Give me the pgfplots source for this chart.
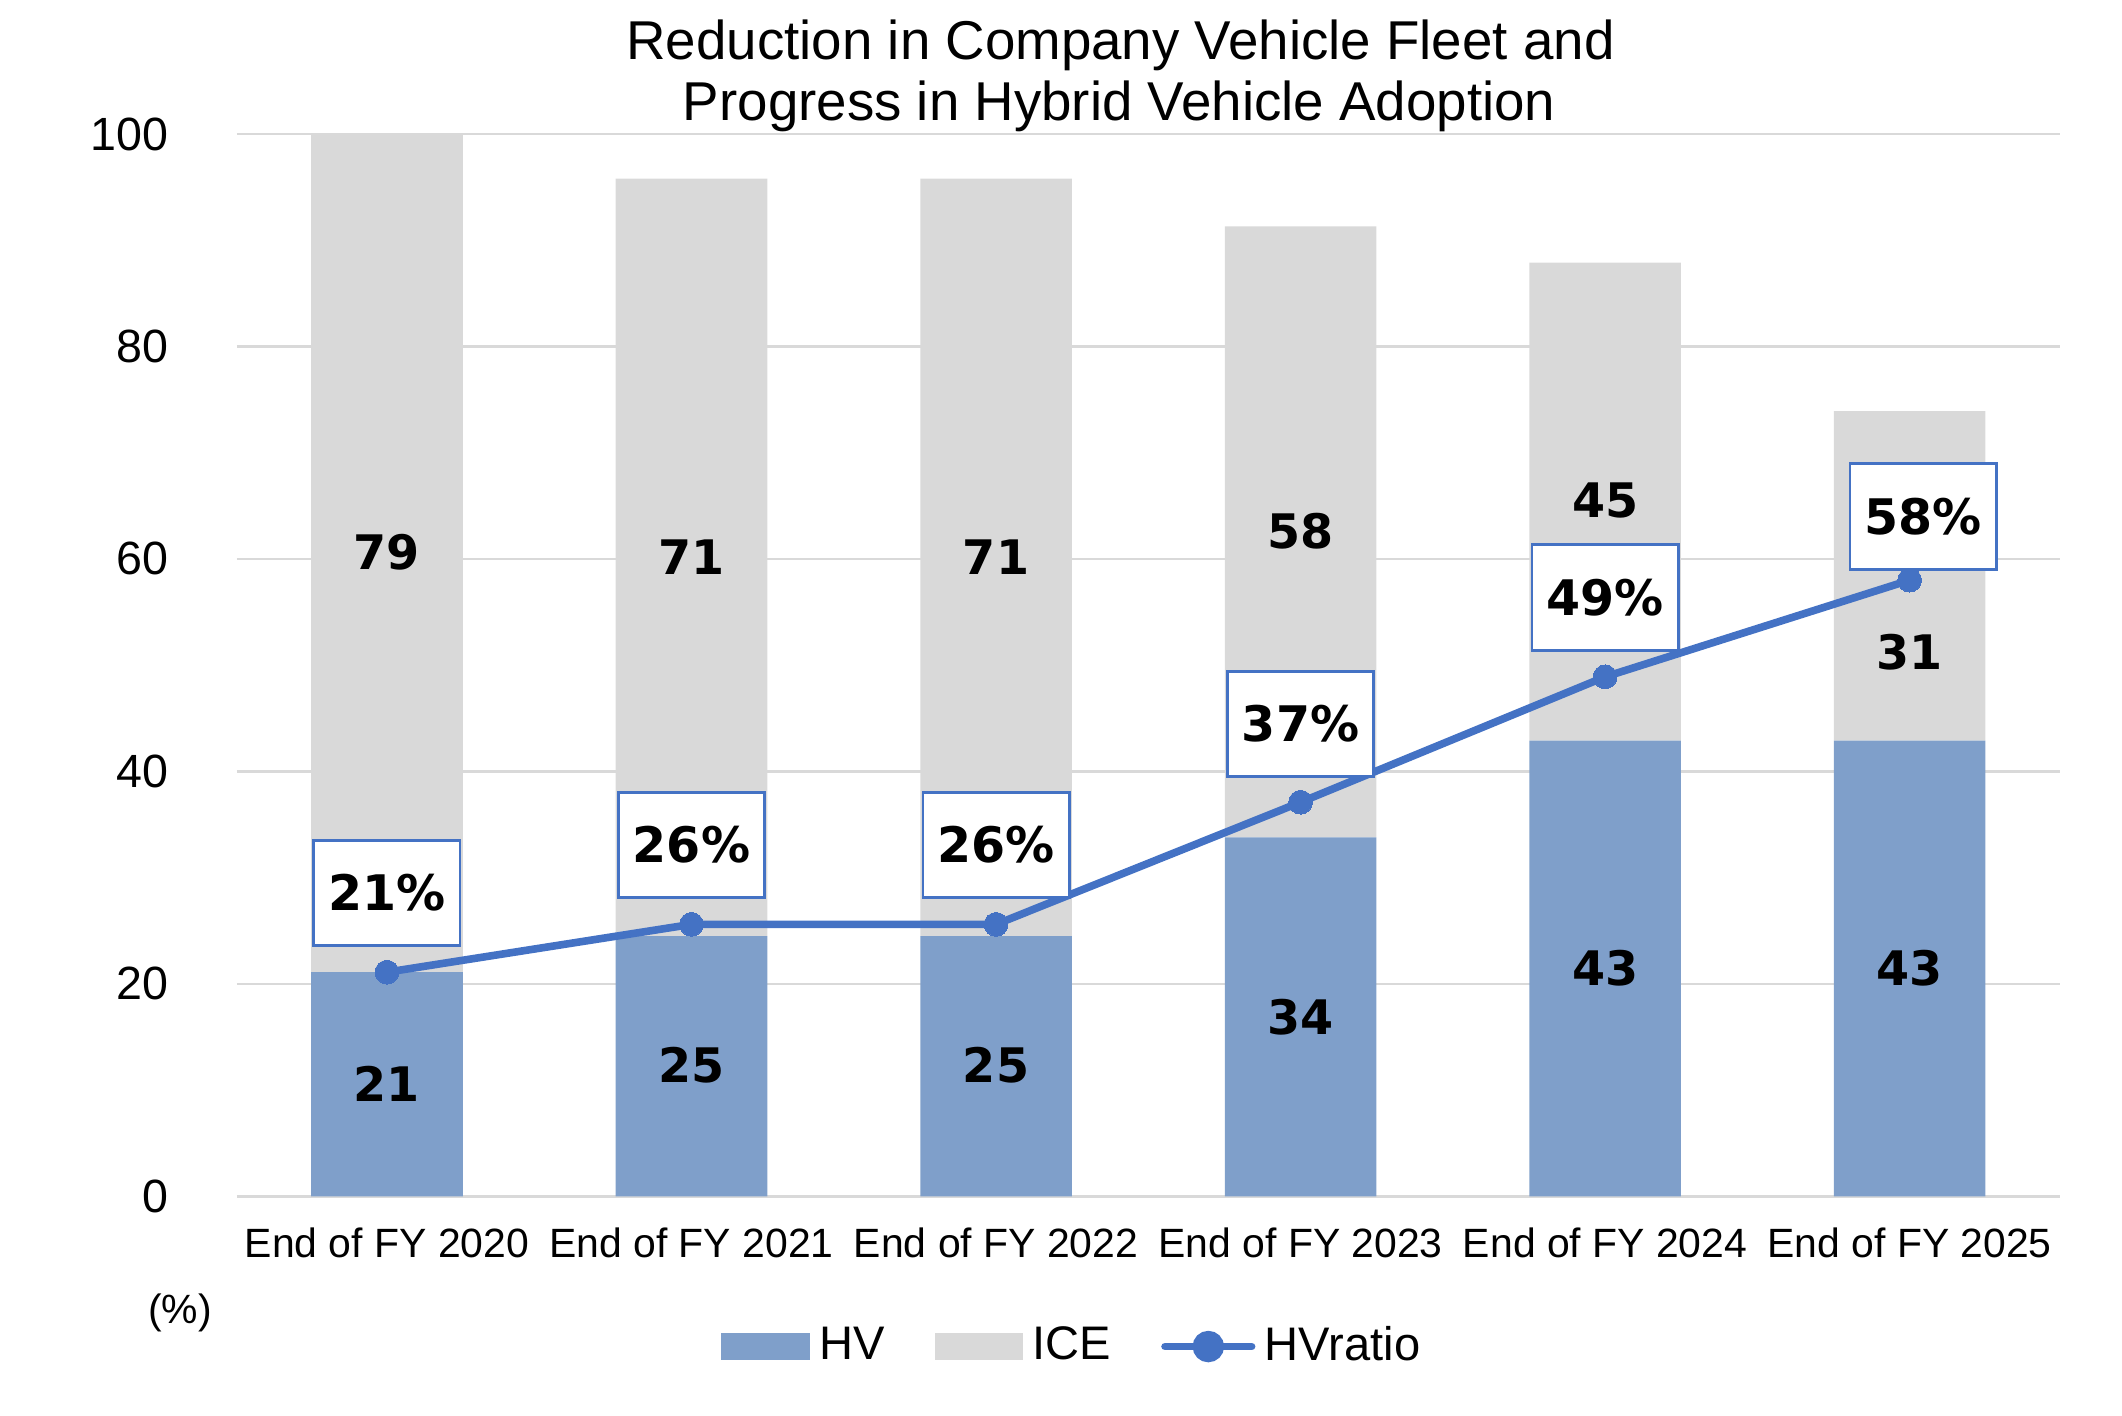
\documentclass[border=0pt]{standalone}
\usepackage{pgfplots}
\pgfplotsset{compat=1.18}
\usepackage{pgfplotstable}
\usepackage{fontspec}
\setmainfont{Liberation Sans}
\newfontfamily\lblfont{DejaVu Sans}
\definecolor{hvc}{HTML}{7F9FCA}
\definecolor{icec}{HTML}{D9D9D9}
\definecolor{linec}{HTML}{4472C4}
\definecolor{gridc}{HTML}{D9D9D9}

\pgfplotstableread{
x hv ice ratio
0 21.1 78.9 21.1
1 24.5 71.3 25.6
2 24.5 71.3 25.6
3 33.8 57.5 37.1
4 42.9 45.0 48.9
5 42.9 31.0 58.0
}\datatab

\pgfplotstableread{
x y lab
0 10.6 21
1 12.3 25
2 12.3 25
3 16.9 34
4 21.5 43
5 21.5 43
0 60.6 79
1 60.2 71
2 60.2 71
3 62.6 58
4 65.5 45
5 51.2 31
}\barlabs

\pgfplotstableread{
x y lab
0 28.54 21\%
1 33.06 26\%
2 33.06 26\%
3 44.46 37\%
4 56.37 49\%
5.044 64.01 58\%
}\ratiolabs

\pgfplotsset{
  common/.style={
    at={(0,0)}, anchor=south west,
    scale only axis,
    width=13.47cm, height=7.85cm,
    xmin=-0.493, xmax=5.493,
    ymin=0, ymax=100,
    clip=false,
  },
}

\begin{document}
\begin{tikzpicture}
\path[use as bounding box] (-1.75cm,-1.616cm) rectangle (13.93cm,8.84cm);
\begin{axis}[
  common,
  ybar stacked,
  bar width=1.12cm,
  ytick={0,20,...,100},
  xtick={0,1,2,3,4,5},
  xticklabels={End of FY 2020,End of FY 2021,End of FY 2022,End of FY 2023,End of FY 2024,End of FY 2025},
  axis line style={draw=none},
  tick style={draw=none},
  ymajorgrids,
  grid style={gridc, line width=0.5pt},
  /pgf/number format/assume math mode=true,
  yticklabel style={font=\fontsize{9.8}{11}\selectfont, anchor=east, inner sep=0pt, xshift=-0.5cm},
  xticklabel style={font=\fontsize{8.6}{10}\selectfont, anchor=base, inner sep=0pt, yshift=-0.45cm},
]
\addplot[fill=hvc, draw=none] table[x=x, y=hv] {\datatab};
\addplot[fill=icec, draw=none] table[x=x, y=ice] {\datatab};
\end{axis}
\begin{axis}[
  common,
  hide axis,
  legend style={at={(0.4600,-0.1414)}, anchor=center, draw=none, fill=none,
    legend columns=-1, font=\fontsize{9.9}{11}\selectfont,
    /tikz/every even column/.append style={column sep=0.30cm}},
  legend cell align=left,
]
\addlegendimage{legend image code/.code={\fill[hvc] (0cm,-0.095cm) rectangle (0.64cm,0.095cm);}}
\addlegendentry{HV}
\addlegendimage{legend image code/.code={\fill[icec] (0cm,-0.095cm) rectangle (0.64cm,0.095cm);}}
\addlegendentry{ICE}
\addplot[color=linec, line width=1.6pt,
  mark=*, mark size=2.5pt, mark options={fill=linec, draw=linec, line width=0pt},
  legend image code/.code={\draw[linec, line width=1.6pt, line cap=round] (0cm,0cm) -- (0.64cm,0cm);
     \fill[linec] (0.32cm,0cm) circle (2.5pt);}]
  table[x=x, y=ratio] {\datatab};
\addlegendentry{HVratio}
\addplot[draw=none, mark=none, forget plot,
  nodes near coords, point meta=explicit symbolic,
  every node near coord/.style={anchor=center, font=\lblfont\bfseries\fontsize{10}{12}\selectfont, inner sep=0pt}]
  table[x=x, y=y, meta=lab] {\barlabs};
\addplot[draw=none, mark=none, forget plot,
  nodes near coords, point meta=explicit symbolic,
  every node near coord/.style={anchor=center, font=\lblfont\bfseries\fontsize{10.3}{12}\selectfont,
    draw=linec, line width=0.6pt, fill=white, minimum width=1.08cm, minimum height=0.78cm, inner sep=0pt}]
  table[x=x, y=y, meta=lab] {\ratiolabs};
\end{axis}
\node[anchor=base, font=\fontsize{11.5}{13}\selectfont] at (6.53cm,8.40cm) {Reduction in Company Vehicle Fleet and};
\node[anchor=base, font=\fontsize{11.5}{13}\selectfont] at (6.52cm,7.95cm) {Progress in Hybrid Vehicle Adoption};
\node[font=\fontsize{8.6}{10}\selectfont, inner sep=0pt] at (-0.42cm,-0.86cm) {(\%)};
\end{tikzpicture}
\end{document}
